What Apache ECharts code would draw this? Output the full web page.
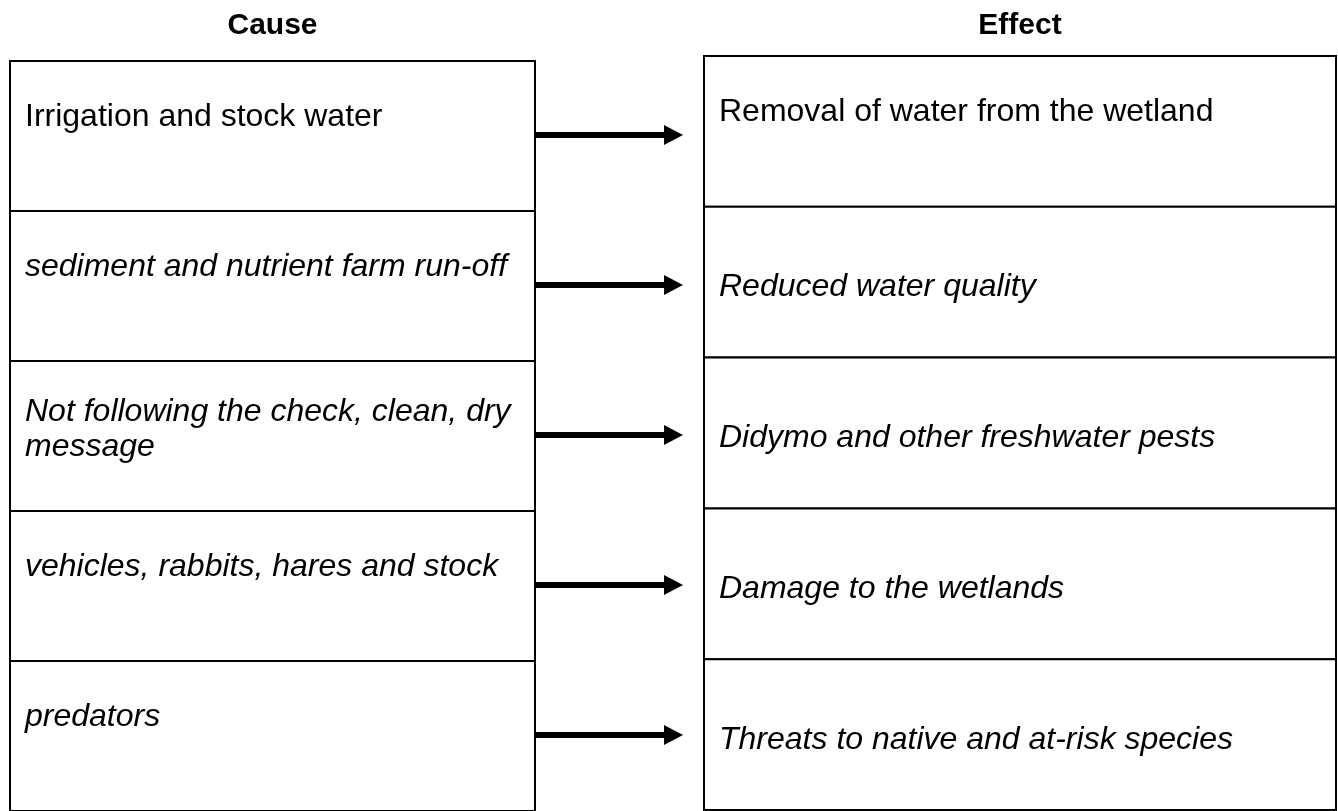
<!DOCTYPE html>
<html>
<head>
<meta charset="utf-8">
<script src="https://cdn.jsdelivr.net/npm/echarts@6.0.0/dist/echarts.min.js"></script>
<style>
html,body{margin:0;padding:0;background:#fff}
#chart{width:1338px;height:811px}
</style>
</head>
<body>
<div id="chart"></div>
<script>
var headers = ['Cause', 'Effect'];
var causes = [
	'Irrigation and stock water',
	'sediment and nutrient farm run-off',
	'Not following the check, clean, dry\nmessage',
	'vehicles, rabbits, hares and stock',
	'predators'
];
var effects = [
	'Removal of water from the wetland',
	'Reduced water quality',
	'Didymo and other freshwater pests',
	'Damage to the wetlands',
	'Threats to native and at-risk species'
];

var FONT = '"Liberation Sans", Arial, sans-serif';

// one box per row, text inside
function boxRender(texts, lead){
	return function(params, api){
		var i = api.value(1);
		var c = api.coord([0, i]);
		var h = api.size([0, 1])[1];
		var w = params.coordSys.width;
		var top = c[1] - h / 2;
		return {
			type: 'group',
			children: [
				{type: 'rect', shape: {x: c[0], y: top, width: w, height: h},
					style: {fill: '#fff', stroke: '#000', lineWidth: 2}},
				{type: 'text', x: c[0] + 15, y: top + lead(i),
					style: {text: texts[i], fill: '#000',
						font: (i > 0 ? 'italic ' : '') + '32px ' + FONT,
						lineHeight: 35, verticalAlign: 'top'}}
			]
		};
	};
}

function arrowRender(params, api){
	var i = api.value(1);
	var a = api.coord([0, i]);
	var b = api.coord([1, i]);
	var y = a[1] - 1;
	var head = 19;
	return {
		type: 'group',
		children: [
			{type: 'rect', shape: {x: a[0], y: y - 3, width: b[0] - head - a[0], height: 6},
				style: {fill: '#000'}},
			{type: 'polygon', shape: {points: [[b[0] - head, y - 10], [b[0], y], [b[0] - head, y + 10]]},
				style: {fill: '#000'}}
		]
	};
}

function rowData(list){
	return list.map(function(t, i){ return [0, i]; });
}

function hiddenX(idx, name, gap){
	return {
		gridIndex: idx, type: 'value', min: 0, max: 1, position: 'top',
		name: name, nameLocation: 'middle', nameGap: gap,
		nameTextStyle: {fontFamily: FONT, fontWeight: 'bold', fontSize: 30, color: '#000'},
		axisLine: {show: false}, axisTick: {show: false}, axisLabel: {show: false}, splitLine: {show: false}
	};
}
function hiddenY(idx, cats){
	return {gridIndex: idx, type: 'category', data: cats, inverse: true, show: false};
}

var chart = echarts.init(document.getElementById('chart'));
chart.setOption({
	animation: false,
	backgroundColor: '#fff',
	grid: [
		{left: 10, top: 61, width: 525, height: 750},
		{left: 704, top: 56, width: 632, height: 754},
		{left: 535, top: 61, width: 148, height: 750}
	],
	xAxis: [
		hiddenX(0, headers[0], 20),
		hiddenX(1, headers[1], 15),
		hiddenX(2, '', 0)
	],
	yAxis: [
		hiddenY(0, causes),
		hiddenY(1, effects),
		hiddenY(2, causes)
	],
	series: [
		{type: 'custom', xAxisIndex: 0, yAxisIndex: 0, data: rowData(causes),
			encode: {x: 0, y: 1},
			renderItem: boxRender(causes, function(i){ return i === 2 ? 34 : 39; })},
		{type: 'custom', xAxisIndex: 1, yAxisIndex: 1, data: rowData(effects),
			encode: {x: 0, y: 1},
			renderItem: boxRender(effects, function(i){ return i === 0 ? 39 : 63; })},
		{type: 'custom', xAxisIndex: 2, yAxisIndex: 2, data: rowData(causes),
			encode: {x: 0, y: 1},
			renderItem: arrowRender}
	]
});
</script>
</body>
</html>
